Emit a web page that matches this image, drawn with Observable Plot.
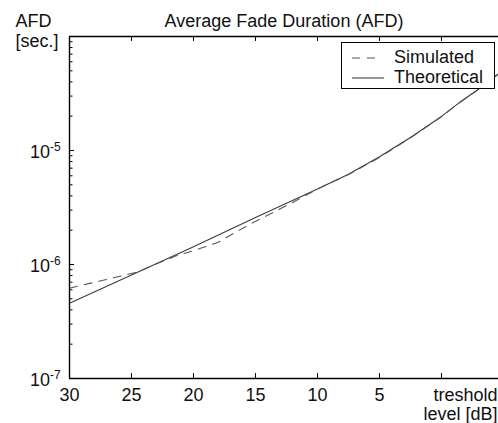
<!DOCTYPE html>
<html><head><meta charset="utf-8">
<script src="https://cdn.jsdelivr.net/npm/d3@7"></script>
<script src="https://cdn.jsdelivr.net/npm/@observablehq/plot@0.6"></script>
<style>
body{margin:0;background:#fff;font-family:"Liberation Sans",Arial,sans-serif;}
#wrap{position:relative;width:498px;height:423px;overflow:hidden;background:#fff}
#legend{position:absolute;left:341px;top:42px;width:152px;height:45px;border:1.5px solid #000;background:#fff;font-size:18px;color:#111}
#legend .row{position:absolute;left:0;height:20px;width:100%}
#legend svg{position:absolute;left:9px;top:0}
#legend span{position:absolute;left:52px;line-height:20px;white-space:nowrap}
</style></head><body><div id="wrap"></div>
<script>
// ---- data ----
const theoDb  = [30, 25, 20, 15, 10, 7.5, 5, 2.5, 0, -1.5, -3, -4.6];
const theoAfd = [4.58e-7, 8.1e-7, 1.43e-6, 2.58e-6, 4.6e-6, 6.2e-6, 8.8e-6, 1.3e-5, 1.99e-5, 2.66e-5, 3.45e-5, 4.7e-5];
const simDb   = [30, 27, 24.5, 23.5, 21.5, 20, 18, 15.5, 12, 10, 7.5, 5, 2.5, 0, -1.5, -3, -4.6];
const simAfd  = [6.2e-7, 7.4e-7, 8.6e-7, 9.6e-7, 1.18e-6, 1.32e-6, 1.57e-6, 2.24e-6, 3.5e-6, 4.6e-6, 6.15e-6, 8.7e-6, 1.29e-5, 1.98e-5, 2.65e-5, 3.45e-5, 4.7e-5];
const xTicks = [30, 25, 20, 15, 10, 5, 0];
const xTickLabels = ["30", "25", "20", "15", "10", "5", ""];
const yLabelDecades = [1e-7, 1e-6, 1e-5];
const yExponents = ["-7", "-6", "-5"];
const yMajor = [1e-7, 1e-6, 1e-5, 1e-4];
const yMinorMult = [2, 3, 4, 5, 6, 7, 8, 9];
const seriesNames = ["Simulated", "Theoretical"];
const titleText = "Average Fade Duration (AFD)";
const yLabelLines = ["AFD", "[sec.]"];
const xLabelLines = ["treshold", "level [dB]"];

const theo = theoDb.map((d, i) => ({db: d, afd: theoAfd[i]}));
const sim = simDb.map((d, i) => ({db: d, afd: simAfd[i]}));
const yMinor = [];
for (const dec of [1e-7, 1e-6, 1e-5]) for (const m of yMinorMult) yMinor.push(m * dec);
const xLab = xTicks.map((t, i) => ({t, label: xTickLabels[i]})).filter(d => d.label);
const yLab = yLabelDecades.map((v, i) => ({v, e: yExponents[i]}));

const W = 498, H = 423, mL = 69, mR = 0, mT = 36, mB = 45;
const fw = W - mL - mR, fh = H - mT - mB;
const font = "Liberation Sans, Arial, sans-serif";
const dashed = "8,7";

const chart = Plot.plot({
  width: W, height: H,
  marginLeft: mL, marginRight: mR, marginTop: mT, marginBottom: mB,
  style: {fontFamily: font, fontSize: "18px", background: "white", overflow: "visible"},
  x: {domain: [30, -4.6], axis: null},
  y: {type: "log", domain: [1e-7, 1e-4], axis: null},
  marks: [
    Plot.line(theo, {x: "db", y: "afd", stroke: "#3c3c3c", strokeWidth: 1.1}),
    Plot.line(sim, {x: "db", y: "afd", stroke: "#555", strokeWidth: 1.1, strokeDasharray: dashed}),
    // frame lines
    Plot.ruleX([30], {x: d => d, stroke: "black", strokeWidth: 1.4}),
    Plot.ruleY([1e-7, 1e-4], {y: d => d, stroke: "black", strokeWidth: 1.4}),
    // inward ticks
    Plot.tickX(xTicks, {x: d => d, insetTop: fh - 5, stroke: "black"}),
    Plot.tickX(xTicks, {x: d => d, insetBottom: fh - 5, stroke: "black"}),
    Plot.tickY(yMajor, {y: d => d, insetRight: fw - 5, stroke: "black"}),
    Plot.tickY(yMinor, {y: d => d, insetRight: fw - 3.5, stroke: "black"}),
    // tick labels
    Plot.text(xLab, {x: "t", text: "label", frameAnchor: "bottom", lineAnchor: "middle", dy: 16.5, fontSize: 18, fill: "#111"}),
    Plot.text(yLab, {y: "v", text: () => "10", frameAnchor: "left", textAnchor: "end", dx: -19.5, dy: 2, fontSize: 18, fill: "#111"}),
    Plot.text(yLab, {y: "v", text: "e", frameAnchor: "left", textAnchor: "start", dx: -19.5, dy: -3.5, fontSize: 12, fill: "#111"}),
    // titles
    Plot.text([titleText], {text: d => d, frameAnchor: "top", lineAnchor: "middle", dy: -14.8, fontSize: 18, fill: "#111"}),
    Plot.text([yLabelLines[0]], {text: d => d, frameAnchor: "top-left", lineAnchor: "middle", textAnchor: "start", dx: -54, dy: -14.8, fontSize: 18, fill: "#111"}),
    Plot.text([yLabelLines[1]], {text: d => d, frameAnchor: "top-left", lineAnchor: "middle", textAnchor: "start", dx: -54, dy: 5.2, fontSize: 18, fill: "#111"}),
    Plot.text([xLabelLines[0]], {text: d => d, frameAnchor: "bottom-right", lineAnchor: "middle", textAnchor: "end", dx: -1, dy: 16.5, fontSize: 18, fill: "#111"}),
    Plot.text([xLabelLines[1]], {text: d => d, frameAnchor: "bottom-right", lineAnchor: "middle", textAnchor: "end", dx: -1, dy: 35.5, fontSize: 18, fill: "#111"})
  ]
});
const wrap = document.getElementById("wrap");
wrap.appendChild(chart);

// legend
const legend = document.createElement("div");
legend.id = "legend";
legend.style.height = "45px";
const styles = [{dash: dashed, len: 24, stroke: "#555"}, {dash: null, len: 32, stroke: "#3c3c3c"}];
seriesNames.forEach((name, i) => {
  const row = document.createElement("div");
  row.className = "row";
  row.style.top = (4 + i * 19.5) + "px";
  const s = styles[i];
  row.innerHTML = `<svg width="34" height="20"><line x1="1" x2="${1 + s.len}" y1="11" y2="11" stroke="${s.stroke}" stroke-width="1.1" ${s.dash ? `stroke-dasharray="${s.dash}"` : ""}/></svg><span>${name}</span>`;
  legend.appendChild(row);
});
wrap.appendChild(legend);
</script></body></html>
